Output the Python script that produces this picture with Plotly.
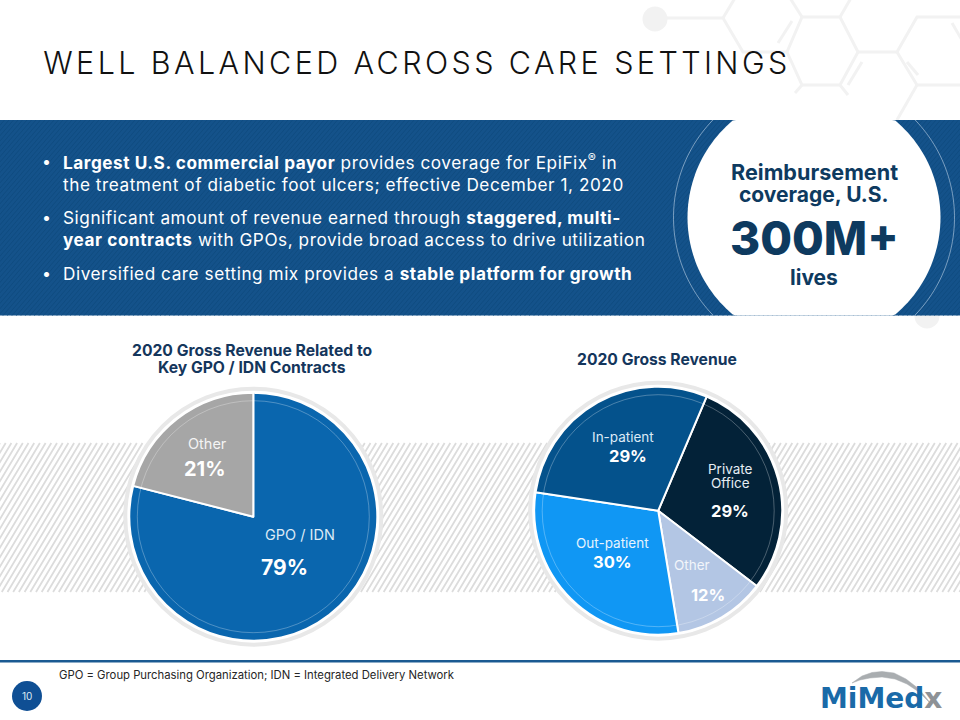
import numpy as np
import plotly.graph_objects as go

W, H = 960, 720

# ---- data ----
left_title = ["2020 Gross Revenue Related to", "Key GPO / IDN Contracts"]
left_labels = ["GPO / IDN", "Other"]
left_values = [79, 21]
left_colors = ["#0a66ae", "#a6a6a6"]

right_title = "2020 Gross Revenue"
right_labels = ["Private Office", "Other", "Out-patient", "In-patient"]
right_values = [29, 12, 30, 29]
right_colors = ["#032238", "#b3c6e4", "#1097f4", "#04528c"]

slide_title = "WELL BALANCED ACROSS CARE SETTINGS"
bullets = [
    (161, "<b>Largest U.S. commercial payor</b> provides coverage for EpiFix<sup>®</sup> in", True),
    (184, "the treatment of diabetic foot ulcers; effective December 1, 2020", False),
    (217, "Significant amount of revenue earned through <b>staggered, multi-</b>", True),
    (240, "<b>year contracts</b> with GPOs, provide broad access to drive utilization", False),
    (273, "Diversified care setting mix provides a <b>stable platform for growth</b>", True),
]
footnote = "GPO = Group Purchasing Organization; IDN = Integrated Delivery Network"
page_number = "10"

BODY = "Inter"
NAVY = "#0e3a5f"
BANNER = "#14528a"


def px(x):
    return x / W


def py(y):
    return 1 - y / H


def poly(points, close=False):
    s = "M" + " L".join(f"{px(x):.5f} {py(y):.5f}" for x, y in points)
    return s + (" Z" if close else "")


def circle(cx, cy, r, fill="rgba(0,0,0,0)", line=None, lw=0, layer="below"):
    return dict(type="circle", xref="paper", yref="paper", layer=layer,
                x0=px(cx - r), x1=px(cx + r), y0=py(cy + r), y1=py(cy - r),
                fillcolor=fill, line=dict(color=line or fill, width=lw))


def rect(x0, y0, x1, y1, fill):
    return dict(type="rect", xref="paper", yref="paper", layer="below",
                x0=px(x0), x1=px(x1), y0=py(y1), y1=py(y0),
                fillcolor=fill, line=dict(width=0))


def hatch(x0, x1, y0, y1, step, lean, color, lw):
    parts = []
    x = x0 - lean
    while x < x1 + lean:
        parts.append(poly([(x, y1), (x + lean, y0)]))
        x += step
    return dict(type="path", xref="paper", yref="paper", layer="below",
                path=" ".join(parts), line=dict(color=color, width=lw))


shapes = []

# hexagon decoration behind the title
hex_lines = [
    [(655, 18), (723, 18), (743, 52), (787, 52), (802, 17), (840, 17), (858, 52), (840, 85), (802, 85), (787, 52)],
    [(723, 18), (735, -2)], [(802, 17), (790, -2)], [(840, 17), (851, -2)],
    [(858, 52), (897, 52), (917, 17), (962, 17)], [(897, 52), (917, 85), (962, 85)],
    [(917, 85), (897, 120)], [(840, 85), (848, 95)], [(802, 85), (795, 93)],
    [(792, 21), (778, 43)], [(862, 62), (848, 85)], [(907, 62), (918, 75)], [(952, 23), (962, 40)],
]
for seg in hex_lines:
    shapes.append(dict(type="path", xref="paper", yref="paper", layer="below", path=poly(seg),
                       line=dict(color="#f2f2f2", width=3)))
shapes.append(circle(655, 19, 12.5, fill="#f2f2f2"))
shapes.append(circle(927, 316, 12.5, fill="#f2f2f2"))

# banner with white disc
shapes.append(rect(0, 120, W, 315.5, BANNER))
shapes.append(hatch(0, W, 120, 315.5, 4.5, 2.8 * 60, "#104c80", 1))
cx, cy = 814, 217.5
ang = np.linspace(0, 2 * np.pi, 181)
disc = [(cx + 126.5 * np.cos(a), float(np.clip(cy + 126.5 * np.sin(a), 120, 315.5))) for a in ang]
shapes.append(dict(type="path", xref="paper", yref="paper", layer="below", path=poly(disc, True),
                   fillcolor="white", line=dict(width=0)))
lim = np.arcsin(97.5 / 140.5)
for a0 in (0.0, np.pi):
    arc = [(cx + 140.5 * np.cos(a), cy + 140.5 * np.sin(a)) for a in np.linspace(a0 - lim, a0 + lim, 50)]
    shapes.append(dict(type="path", xref="paper", yref="paper", layer="below", path=poly(arc),
                       line=dict(color="rgba(190,210,230,0.6)", width=1)))

# hatched band behind pies
shapes.append(hatch(0, W, 443, 592, 5.7, 149 * 0.6, "#dcdcdc", 1.8))

# pie geometry
L = (253.3, 516.7)
R = (658.2, 510.7)
PIE_R = 124
for c in (L, R):
    shapes.append(circle(c[0], c[1], 128, fill="white", line="#e8e8e8", lw=4))
    shapes.append(circle(c[0], c[1], 116, line="rgba(255,255,255,0.28)", lw=1, layer="above"))

# footer
shapes.append(rect(0, 660, W, 662.5, "#1a5a92"))
shapes.append(circle(27, 696, 15, fill="#0f4f94"))
swoosh = [(852, 683), (862, 676), (872, 672.5), (882, 671.5), (894, 673), (906, 679), (919, 689), (932, 705),
          (919, 692), (907, 684), (895, 679), (882, 677), (870, 678), (860, 680)]
shapes.append(dict(type="path", xref="paper", yref="paper", layer="below", path=poly(swoosh, True),
                   fillcolor="#a9adb0", line=dict(color="#a9adb0", width=0.5)))


def dom(c):
    return dict(x=[px(c[0] - PIE_R), px(c[0] + PIE_R)], y=[py(c[1] + PIE_R), py(c[1] - PIE_R)])


fig = go.Figure()
fig.add_trace(go.Pie(labels=left_labels, values=left_values, sort=False, direction="clockwise", rotation=0,
                     domain=dom(L), textinfo="none", hoverinfo="label+percent", showlegend=False,
                     marker=dict(colors=left_colors, line=dict(color="white", width=2))))
fig.add_trace(go.Pie(labels=right_labels, values=right_values, sort=False, direction="clockwise", rotation=23,
                     domain=dom(R), textinfo="none", hoverinfo="label+percent", showlegend=False,
                     marker=dict(colors=right_colors, line=dict(color="white", width=2))))


def note(x, y, text, size, color, anchor="center", family=BODY, weight=None):
    f = dict(family=family, size=size, color=color)
    if weight:
        f["weight"] = weight
    return dict(x=px(x), y=py(y), xref="paper", yref="paper", text=text, showarrow=False,
                xanchor=anchor, yanchor="middle", font=f, borderpad=0)


ann = [note(417, 62, slide_title, 30.5, "#111111", "center", weight=300)]
for y, txt, dot in bullets:
    ann.append(note(62, y, txt, 17.2, "white", "left"))
    if dot:
        ann.append(note(46.5, y, "•", 16, "white", "center"))

ann += [
    note(814, 172, "Reimbursement", 21.6, NAVY, weight=700),
    note(814, 195, "coverage, U.S.", 21, NAVY, weight=700),
    note(814, 238, "300M+", 46, NAVY, weight=800),
    note(814, 277, "lives", 21, NAVY, weight=700),
    note(252, 350, left_title[0], 15.7, "#14365c", weight=700),
    note(252, 367, left_title[1], 15.7, "#14365c", weight=700),
    note(657, 359, right_title, 15.7, "#14365c", weight=700),
    note(207, 443, left_labels[1], 14.5, "#f4f4f4"),
    note(205, 469, f"{left_values[1]}%", 20, "white", weight=700),
    note(300, 534, left_labels[0], 14.5, "#dceaf6"),
    note(284, 567, f"{left_values[0]}%", 21, "white", weight=700),
    note(623, 437, right_labels[3], 13.5, "#dceaf6"),
    note(628, 456, f"{right_values[3]}%", 16.5, "white", weight=700),
    note(730, 469, right_labels[0].split()[0], 13.5, "#e6edf3"),
    note(730, 483, right_labels[0].split()[1], 13.5, "#e6edf3"),
    note(730, 511, f"{right_values[0]}%", 16.5, "white", weight=700),
    note(612, 543, right_labels[2], 13.5, "#e6f3fd"),
    note(612, 562, f"{right_values[2]}%", 16.5, "white", weight=700),
    note(692, 565, right_labels[1], 13.5, "#f2f5fa"),
    note(708, 595, f"{right_values[1]}%", 16.5, "white", weight=700),
    note(58, 675, footnote, 11.3, "#262626", "left"),
    note(27, 696, page_number, 10, "#dfe9f3"),
    note(819, 698,
         '<span style="color:#1a6aa8">MiMed</span><span style="color:#8e9296">x</span>',
         28, "#1a6aa8", "left", family="DejaVu Sans", weight=700),
]

fig.update_layout(width=W, height=H, margin=dict(l=0, r=0, t=0, b=0), autosize=False,
                  paper_bgcolor="white", plot_bgcolor="white", showlegend=False,
                  shapes=shapes, annotations=ann)

spacing = """
document.body.style.margin='0';
var bodyStarts = ['Largest U.S.', 'the treatment', 'Significant', 'year contracts', 'Diversified'];
document.querySelectorAll('.annotation-text').forEach(function(t){
  var s = t.textContent;
  if (s.indexOf('WELL BALANCED') === 0) { t.style.letterSpacing = '3.4px'; return; }
  if (bodyStarts.some(function(b){ return s.indexOf(b) === 0; })) {
    var w0 = t.getBBox().width;
    t.style.letterSpacing = '0.55px';
    var w1 = t.getBBox().width;
    t.setAttribute('x', parseFloat(t.getAttribute('x') || 0) + (w1 - w0) / 2);
  }
});
"""
fig.write_html("out.html", post_script=spacing, config={"displayModeBar": False})
